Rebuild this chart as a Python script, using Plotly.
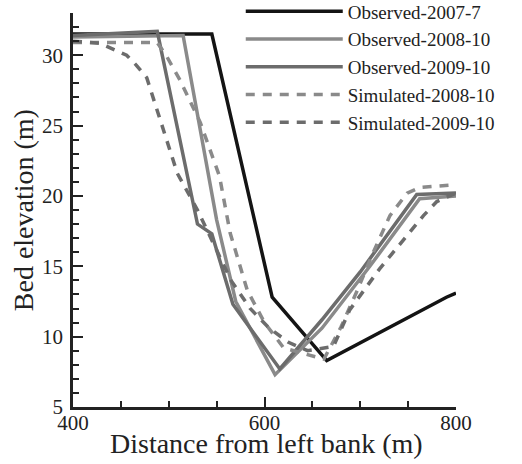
import plotly.graph_objects as go

# Observed-2007-7
obs2007_x = [400, 545, 608, 665, 790, 800]
obs2007_y = [31.5, 31.5, 12.8, 8.3, 12.8, 13.1]

# Observed-2008-10
obs2008_x = [400, 515, 550, 570, 611, 660, 710, 762, 800]
obs2008_y = [31.3, 31.4, 18.3, 12.5, 7.3, 10.6, 15.0, 19.8, 20.0]

# Observed-2009-10
obs2009_x = [400, 488, 530, 545, 567, 616, 660, 700, 759, 800]
obs2009_y = [31.4, 31.7, 18.0, 17.3, 12.3, 7.7, 11.2, 14.6, 20.1, 20.2]

# Simulated-2008-10
sim2008_x = [400, 488, 498, 512, 533, 553, 564, 582, 600, 620, 662, 680, 697, 713, 731, 749, 762, 800]
sim2008_y = [30.9, 30.9, 29.9, 28.2, 25.2, 21.4, 17.4, 13.3, 11.0, 9.2, 8.4, 10.7, 13.3, 15.9, 18.6, 20.2, 20.6, 20.8]

# Simulated-2009-10
sim2009_x = [400, 428, 456, 466, 477, 498, 509, 530, 548, 565, 585, 605, 625, 645, 672, 689, 720, 752, 766, 780, 800]
sim2009_y = [31.0, 30.85, 30.0, 29.3, 28.4, 24.0, 21.6, 19.0, 16.5, 14.0, 12.0, 10.6, 9.6, 9.0, 9.3, 11.9, 14.8, 17.4, 18.6, 19.6, 20.2]

names = ["Observed-2007-7", "Observed-2008-10", "Observed-2009-10",
         "Simulated-2008-10", "Simulated-2009-10"]
xs = [obs2007_x, obs2008_x, obs2009_x, sim2008_x, sim2009_x]
ys = [obs2007_y, obs2008_y, obs2009_y, sim2008_y, sim2009_y]
colors = ["#141414", "#8a8a8a", "#6c6c6c", "#8a8a8a", "#6c6c6c"]
dashes = ["solid", "solid", "solid", "9px,8px", "9px,8px"]

x_title = "Distance from left bank (m)"
y_title = "Bed elevation (m)"

fig = go.Figure()
for n, x, y, c, d in zip(names, xs, ys, colors, dashes):
    fig.add_trace(go.Scatter(x=x, y=y, mode="lines", name=n,
                             line=dict(color=c, width=3.5, dash=d)))

serif = "Liberation Serif, Times New Roman, serif"
fig.update_layout(
    width=522, height=464,
    margin=dict(l=73, r=66, t=13, b=57, autoexpand=False),
    paper_bgcolor="white", plot_bgcolor="white",
    font=dict(family=serif, color="#222", size=18),
    showlegend=True,
    legend=dict(x=0.438, y=1.052, xanchor="left", yanchor="top",
                bgcolor="rgba(0,0,0,0)", itemwidth=97,
                font=dict(family=serif, size=19, color="#222"),
                tracegroupgap=0),
    xaxis=dict(range=[400, 800], tickvals=[400, 600, 800],
               showgrid=False, zeroline=False,
               showline=True, linecolor="#222", linewidth=2.5,
               ticks="inside", ticklen=10, tickwidth=2, tickcolor="#222",
               ticklabelstandoff=-5,
               minor=dict(dtick=50, ticks="inside", ticklen=6, tickwidth=1.5, tickcolor="#222"),
               tickfont=dict(size=21)),
    yaxis=dict(range=[5, 33], tickvals=[5, 10, 15, 20, 25, 30],
               showgrid=False, zeroline=False,
               showline=True, linecolor="#222", linewidth=2.5,
               ticks="inside", ticklen=10, tickwidth=2, tickcolor="#222",
               ticklabelstandoff=3,
               minor=dict(dtick=1, ticks="inside", ticklen=6, tickwidth=1.5, tickcolor="#222"),
               tickfont=dict(size=21)),
    annotations=[
        dict(text=x_title, xref="paper", yref="paper", x=0.505, y=-0.092,
             xanchor="center", yanchor="middle", showarrow=False,
             font=dict(family=serif, size=28, color="#222")),
        dict(text=y_title, xref="paper", yref="paper", x=-0.13, y=0.5,
             xanchor="center", yanchor="middle", showarrow=False, textangle=-90,
             font=dict(family=serif, size=28, color="#222")),
    ],
)

fig.write_html("out.html")
